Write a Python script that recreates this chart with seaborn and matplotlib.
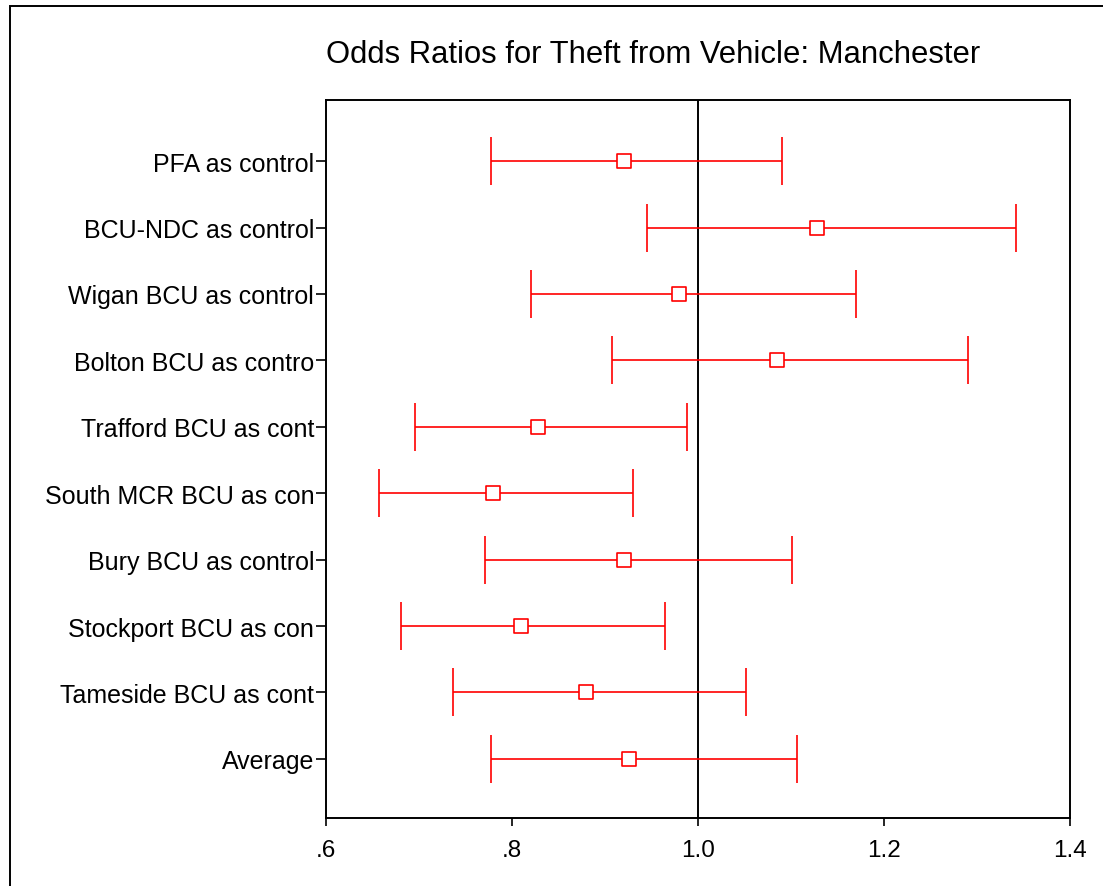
import numpy as np
import pandas as pd
import matplotlib
matplotlib.use('Agg')
import matplotlib.pyplot as plt
import seaborn as sns
from matplotlib.patches import Rectangle
from matplotlib.transforms import Bbox, TransformedBbox

# --- Data ---
labels = ['PFA as control', 'BCU-NDC as control', 'Wigan BCU as control',
          'Bolton BCU as control', 'Trafford BCU as control',
          'South MCR BCU as control', 'Bury BCU as control',
          'Stockport BCU as control', 'Tameside BCU as control', 'Average']
odds = [0.920, 1.128, 0.980, 1.085, 0.828, 0.780, 0.920, 0.810, 0.880, 0.926]
lower = [0.777, 0.945, 0.820, 0.908, 0.696, 0.657, 0.771, 0.681, 0.737, 0.777]
upper = [1.090, 1.342, 1.170, 1.290, 0.988, 0.930, 1.101, 0.964, 1.052, 1.106]
xticks = [0.6, 0.8, 1.0, 1.2, 1.4]
xtick_labels = ['.6', '.8', '1.0', '1.2', '1.4']
title = 'Odds Ratios for Theft from Vehicle: Manchester'

df = pd.DataFrame({'label': labels, 'odds': odds, 'lower': lower, 'upper': upper})

sns.set_style('white')
plt.rcParams['font.family'] = ['Liberation Sans', 'DejaVu Sans']
plt.rcParams['text.color'] = 'black'
plt.rcParams['xtick.color'] = 'black'
plt.rcParams['ytick.color'] = 'black'
plt.rcParams['axes.labelcolor'] = 'black'

W, H = 1103, 887
fig = plt.figure(figsize=(W / 100, H / 100), dpi=100)
ax = fig.add_axes([326 / W, 1 - 819 / H, (1070 - 326) / W, (819 - 101) / H])

red = '#ff0000'
ax.errorbar(df['odds'], df['label'],
            xerr=[df['odds'] - df['lower'], df['upper'] - df['odds']],
            fmt='none', ecolor=red, elinewidth=1.2, capsize=17, capthick=1.2,
            zorder=2)
sns.scatterplot(data=df, x='odds', y='label', marker='s', s=110,
                facecolor='white', edgecolor=red, linewidth=1.2, ax=ax, zorder=3)
ax.axvline(1.0, color='black', lw=1.4, zorder=1)

# Stata-style: labels cut at 20 characters
ax.set_yticks(range(len(labels)))
ax.set_yticklabels([s[:20] for s in labels], fontsize=18)
ax.set_ylim(9.89, -0.92)
ax.set_xlim(0.6, 1.4)
ax.set_xticks(xticks)
ax.set_xticklabels(xtick_labels, fontsize=17.5)
ax.set_xlabel('')
ax.set_ylabel('')

ax.tick_params(axis='y', direction='out', length=7, width=1.2, pad=1.5, left=True,
               colors='black')
ax.tick_params(axis='x', direction='out', length=6, width=1.2, pad=9, bottom=True,
               colors='black')
for sp in ax.spines.values():
    sp.set_linewidth(1.4)
    sp.set_color('black')
    sp.set_visible(True)

# long labels run into the axis and get clipped there
clip = TransformedBbox(Bbox([[0, 0], [326 / W, 1]]), fig.transFigure)
for lab in ax.get_yticklabels():
    lab.set_clip_on(True)
    lab.set_clip_box(clip)

fig.text(653 / W, 1 - 55 / H, title, ha='center', va='center', fontsize=22.3,
         color='black')

# outer graph border
fig.patches.append(Rectangle((10 / W, -0.1), 2, 1.1 - 7 / H, transform=fig.transFigure,
                             fill=False, ec='black', lw=1.4))

fig.savefig('out.png', dpi=100)
